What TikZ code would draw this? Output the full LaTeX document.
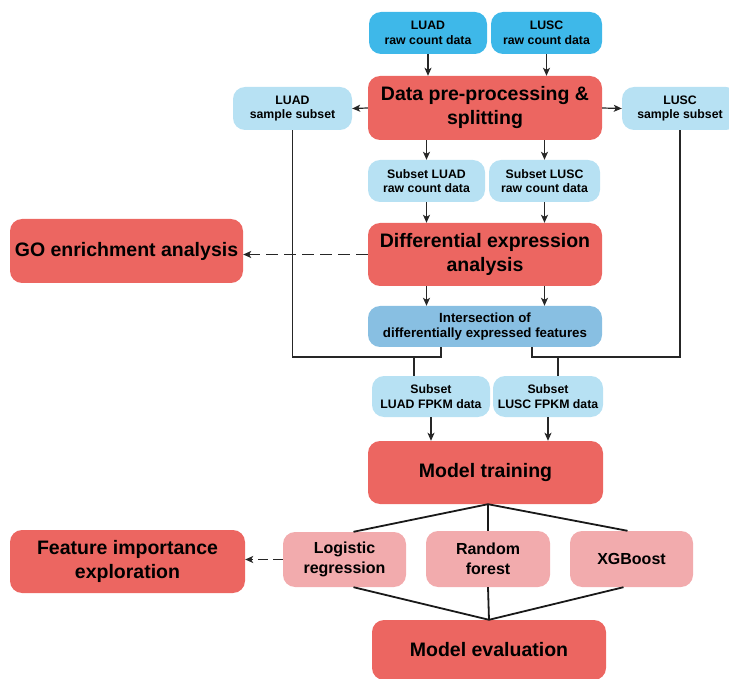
\documentclass[tikz,border=0pt]{standalone}
\usepackage{fontspec}
\setmainfont{Liberation Sans}
\usetikzlibrary{arrows.meta}

\definecolor{redbox}{HTML}{EC6661}
\definecolor{pinkbox}{HTML}{F2ABAD}
\definecolor{rawblue}{HTML}{3EB8E9}
\definecolor{paleblue}{HTML}{B7E1F3}
\definecolor{midblue}{HTML}{88BFE2}

\tikzset{
  box/.style={rounded corners=12pt, inner sep=0pt, align=center},
  bigbox/.style={box, fill=redbox, font=\bfseries\fontsize{19.5}{24}\selectfont},
  modelbox/.style={box, fill=pinkbox, font=\bfseries\fontsize{16}{20}\selectfont},
  rawbox/.style={box, fill=rawblue, font=\bfseries\fontsize{12.3}{14.5}\selectfont},
  subbox/.style={box, fill=paleblue, font=\bfseries\fontsize{12.3}{14.5}\selectfont},
  arr/.style={-{Stealth[length=8pt,width=7pt,inset=2pt]}, line width=1.2pt, black!85},
  link/.style={line width=1.2pt, black!85},
  fan/.style={line width=1.8pt, black!90},
  dasharr/.style={arr, dash pattern=on 12pt off 6pt}
}

\begin{document}
\begin{tikzpicture}[x=1pt, y=-1pt]
        \useasboundingbox (0,0) rectangle (729,679);
        % Raw input data
        \node[rawbox, minimum width=118pt, minimum height=42pt] (luadraw) at (428,33) {LUAD\\raw count data};
        \node[rawbox, minimum width=111pt, minimum height=42pt] (luscraw) at (546.5,33) {LUSC\\raw count data};
        % Pre-processing and split
        \node[bigbox, minimum width=234pt, minimum height=64pt] (prep) at (485,108) {Data pre-processing \&\\splitting};
        \node[subbox, minimum width=119pt, minimum height=43pt] (luadsub) at (292.5,108.5) {LUAD\\sample subset};
        \node[subbox, minimum width=116pt, minimum height=43pt] (luscsub) at (680,108.5) {LUSC\\sample subset};
        \node[subbox, minimum width=117pt, minimum height=42pt] (luadrawsub) at (426.5,181) {Subset LUAD\\raw count data};
        \node[subbox, minimum width=111pt, minimum height=42pt] (luscrawsub) at (544.5,181) {Subset LUSC\\raw count data};
        % Differential expression
        \node[bigbox, minimum width=234pt, minimum height=63pt] (diffexp) at (485,254.5) {Differential expression\\analysis};
        \node[bigbox, minimum width=233pt, minimum height=64pt] (goenr) at (126.5,251) {GO enrichment analysis};
        \node[box, fill=midblue, font=\bfseries\fontsize{13.3}{15.5}\selectfont, minimum width=234pt, minimum height=41pt] (inter) at (485,326.5) {Intersection of\\differentially expressed features};
        \node[subbox, minimum width=118pt, minimum height=41pt] (luadfpkm) at (431,396.5) {Subset\\LUAD FPKM data};
        \node[subbox, minimum width=110pt, minimum height=41pt] (luscfpkm) at (548,396.5) {Subset\\LUSC FPKM data};
        % Models
        \node[bigbox, minimum width=235pt, minimum height=63pt] (train) at (485.5,472.5) {Model training};
        \node[modelbox, minimum width=123pt, minimum height=55pt] (logreg) at (344.5,559.5) {Logistic\\regression};
        \node[modelbox, minimum width=124pt, minimum height=56pt] (rf) at (488,559) {Random\\forest};
        \node[modelbox, minimum width=123pt, minimum height=56pt] (xgb) at (631.5,559) {XGBoost};
        \node[bigbox, minimum width=235pt, minimum height=63pt] (featimp) at (127.5,561.5) {Feature importance\\exploration};
        \node[bigbox, minimum width=234pt, minimum height=60pt] (evalm) at (489,650) {Model evaluation};
        % Join points of the sample subset lines
        \coordinate (jl) at (441,357);
        \coordinate (dl) at (414,357);
        \coordinate (jr) at (532,357);
        \coordinate (dr) at (558,357);
        % Arrows
        \draw[arr] (luadraw.south) -- (luadraw.south |- prep.north);
        \draw[arr] (luscraw.south) -- (luscraw.south |- prep.north);
        \draw[arr] (prep.west) -- (luadsub.east);
        \draw[arr] (prep.east) -- (luscsub.west);
        \foreach \n in {luadrawsub,luscrawsub} {
          \draw[arr] (prep.south -| \n) -- (\n.north);
          \draw[arr] (\n.south) -- (\n.south |- diffexp.north);
          \draw[arr] (diffexp.south -| \n) -- (inter.north -| \n);
        }
        \draw[dasharr] (diffexp.west) -- (goenr.east |- diffexp.west);
        \draw[link] (luadsub.south) |- (jl) -- (jl |- inter.south);
        \draw[link] (dl) -- (dl |- luadfpkm.north);
        \draw[link] (luscsub.south) |- (jr) -- (jr |- inter.south);
        \draw[link] (dr) -- (dr |- luscfpkm.north);
        \draw[arr] (luadfpkm.south) -- (luadfpkm.south |- train.north);
        \draw[arr] (luscfpkm.south) -- (luscfpkm.south |- train.north);
        % Model fan
        \draw[fan] ([xshift=9pt]logreg.north) -- ([xshift=2.5pt]train.south) -- ([xshift=-4pt]xgb.north);
        \draw[fan] ([xshift=2.5pt]train.south) -- (rf.north);
        \draw[fan] ([xshift=9pt]logreg.south) -- (evalm.north) -- ([xshift=-8pt]xgb.south);
        \draw[fan] (rf.south) -- (evalm.north);
        \draw[arr, dash pattern=on 10pt off 5pt] (logreg.west) -- (featimp.east |- logreg.west);
      \end{tikzpicture}
\end{document}
